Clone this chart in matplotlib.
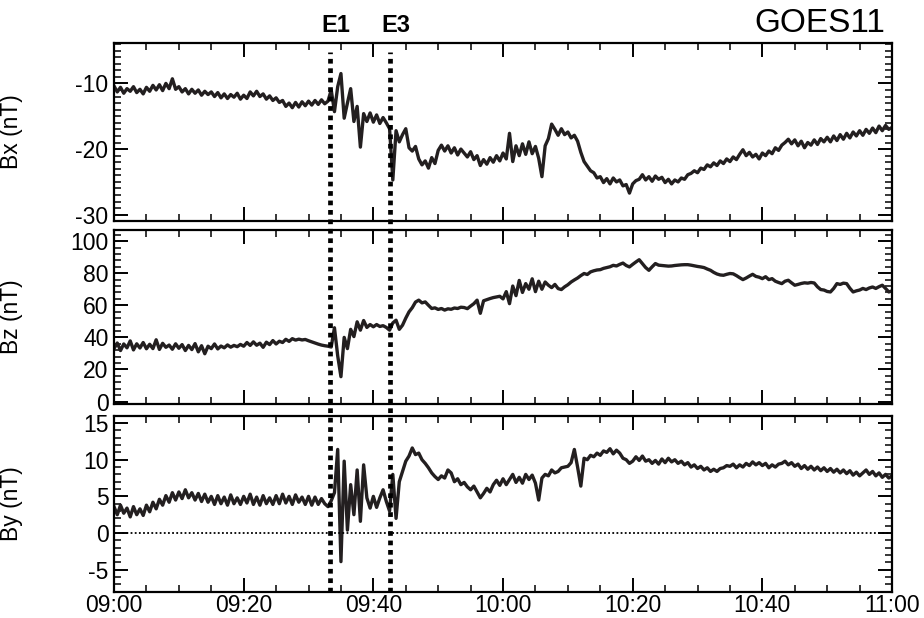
import matplotlib
matplotlib.use("Agg")
import matplotlib.pyplot as plt
import numpy as np
from matplotlib.lines import Line2D
from matplotlib.ticker import MultipleLocator
from matplotlib.transforms import blended_transform_factory

plt.rcParams["font.family"] = ["Liberation Sans", "DejaVu Sans"]
plt.rcParams["axes.unicode_minus"] = False

# minutes after 09:00, one sample every 30 s
minutes = np.arange(0, 120.5, 0.5)

bx = [
    -10.4, -11.3, -10.6, -11.5, -10.8, -11.2, -10.5, -11.4, -10.9, -11.6,
    -10.6, -11.2, -10.3, -11.0, -10.2, -11.1, -10.0, -10.8, -9.3, -10.9,
    -10.5, -11.3, -10.8, -11.6, -10.9, -11.5, -11.0, -11.8, -11.2, -11.7,
    -11.3, -12.0, -11.4, -12.2, -11.6, -12.3, -11.7, -12.1, -11.5, -12.4,
    -11.8, -12.3, -11.3, -11.9, -11.2, -12.0, -11.6, -12.4, -11.9, -12.6,
    -12.2, -12.9, -12.6, -13.5, -13.0, -13.7, -12.9, -13.6, -12.8, -13.4,
    -12.7, -13.3, -12.6, -13.2, -12.5, -13.1, -12.7, -11.0, -14.3, -10.5,
    -8.5, -15.3, -13.0, -10.8, -15.8, -13.5, -19.7, -14.6, -15.8, -14.5,
    -15.9, -14.8, -16.1, -15.2, -16.0, -16.9, -24.7, -17.2, -18.9, -17.8,
    -16.9, -19.8, -20.3, -19.6, -21.5, -22.4, -21.8, -22.9, -21.3, -22.2,
    -20.2, -19.4, -20.3, -19.5, -20.6, -19.8, -20.9, -20.0, -20.6, -21.2,
    -20.4, -21.6, -21.0, -22.5, -21.6, -22.3, -21.3, -22.0, -21.0, -21.8,
    -20.6, -21.5, -17.6, -21.9, -19.5, -21.0, -19.2, -20.8, -18.9, -20.7,
    -19.6, -21.4, -24.2, -19.5, -18.4, -16.2, -17.0, -17.9, -16.9, -17.8,
    -17.4, -18.3, -17.9, -18.8, -20.5, -21.9, -22.6, -23.3, -23.6, -24.4,
    -24.2, -25.1, -24.5, -25.3, -24.4, -25.0, -24.7, -25.6, -25.4, -26.7,
    -25.3, -24.8, -24.6, -23.9, -24.7, -24.2, -24.9, -24.1, -24.6, -24.3,
    -25.1, -24.6, -25.3, -24.7, -25.0, -24.4, -24.6, -23.9, -23.7, -23.3,
    -23.6, -22.9, -23.1, -22.4, -22.7, -22.1, -22.5, -21.8, -22.2, -21.5,
    -21.9, -21.2, -21.6, -20.8, -20.1, -21.0, -20.5, -21.2, -20.8, -21.5,
    -20.6, -21.0, -20.3, -20.7, -19.8, -20.2, -19.4, -19.0, -18.5, -19.2,
    -18.6, -19.5, -18.8, -19.8, -19.0, -19.4, -18.6, -19.3, -18.4, -18.9,
    -18.2, -18.9, -18.0, -18.7, -17.8, -18.5, -17.6, -18.3, -17.4, -18.0,
    -17.2, -17.9, -17.0, -17.6, -16.8, -17.5, -16.5, -17.2, -16.4, -17.0,
    -16.7,
]

bz = [
    33.0, 36.5, 31.8, 35.9, 33.5, 37.8, 32.2, 36.0, 33.4, 36.8,
    32.9, 35.7, 33.0, 38.5, 32.5, 36.3, 33.8, 35.2, 32.6, 36.0,
    33.2, 35.5, 31.8, 35.0, 32.4, 36.1, 31.0, 34.8, 29.8, 34.5,
    33.0, 35.9, 32.8, 34.6, 33.5, 35.3, 33.9, 35.0, 34.2, 35.6,
    34.5, 36.8, 35.0, 37.2, 35.1, 36.4, 33.8, 37.0, 35.5, 38.0,
    35.9, 37.6, 36.8, 38.8, 37.5, 39.2, 38.3, 38.9, 38.4, 38.7,
    37.9, 37.2, 36.5, 35.8, 35.2, 34.8, 34.5, 34.0, 46.0, 28.5,
    15.5, 40.0, 33.0, 45.0, 40.5, 49.7, 44.5, 50.5, 46.2, 48.0,
    46.6, 48.0, 46.8, 47.3, 46.2, 44.5, 49.0, 50.7, 45.0, 47.6,
    52.0, 55.9, 58.5, 62.0, 63.2, 61.5, 62.1, 60.0, 58.0, 58.4,
    57.4, 58.0, 57.0, 57.8, 57.5, 58.3, 58.0, 58.8, 58.6, 57.9,
    59.5, 61.0, 63.2, 55.0, 62.8, 63.5, 64.2, 64.8, 65.2, 65.6,
    64.0, 68.5, 61.0, 72.0, 66.0, 75.5, 68.0, 73.5, 70.0, 76.5,
    68.5, 75.0, 70.0, 74.5, 72.5, 71.0, 73.0, 70.4, 69.8, 71.5,
    72.8, 74.5, 75.8, 77.0, 78.5, 79.8, 79.2, 80.8, 81.5, 82.0,
    82.2, 83.0, 83.5, 84.0, 84.9, 84.5, 85.5, 86.3, 84.8, 83.9,
    85.5, 87.0, 88.4, 86.0, 83.5, 81.8, 84.0, 86.0, 85.0, 84.8,
    84.6, 84.4, 84.5, 84.8, 85.0, 85.2, 85.3, 85.3, 85.0, 84.6,
    84.2, 83.9, 83.5, 82.6, 81.8, 80.5, 79.5, 78.9, 78.7, 79.3,
    79.8, 79.6, 78.5, 77.2, 76.0, 77.0, 78.2, 79.3, 78.0, 77.5,
    76.6, 77.8, 76.0, 76.6, 75.0, 74.2, 73.5, 75.0, 75.6, 74.0,
    72.5, 73.0, 73.6, 74.0, 73.8, 74.2, 73.9, 71.5, 69.8, 69.5,
    68.6, 68.3, 70.5, 73.5, 73.0, 73.8, 73.5, 70.6, 68.3, 69.0,
    69.5, 70.5, 69.8, 70.8, 71.4, 70.5, 71.6, 72.5, 70.5, 68.3,
    69.0,
]

by = [
    3.6, 2.5, 3.8, 2.7, 3.4, 2.2, 3.6, 2.5, 3.3, 2.4,
    3.8, 2.9, 4.2, 3.3, 4.6, 3.8, 5.1, 4.2, 5.5, 4.5,
    5.6, 4.7, 5.9, 4.8, 5.5, 4.5, 5.4, 4.3, 5.3, 4.2,
    5.0, 3.9, 5.1, 4.0, 4.9, 3.8, 5.2, 4.0, 4.8, 3.9,
    5.0, 4.1, 5.3, 3.9, 4.9, 3.8, 5.1, 4.0, 4.8, 3.9,
    5.1, 4.0, 5.3, 4.1, 5.0, 3.9, 5.2, 4.2, 4.9, 3.9,
    5.0, 3.8, 4.9, 3.9, 4.7, 4.0, 3.6, 4.4, 5.5, 11.4,
    -3.9, 9.8, 0.4, 6.6, 2.5, 8.6, 1.6, 9.3, 4.8, 3.4,
    5.0, 3.5, 4.8, 5.9, 4.3, 3.0, 8.0, 2.0, 7.0, 8.4,
    9.8, 10.5, 11.6, 10.7, 10.9, 10.0, 9.5, 8.9, 8.2, 7.7,
    7.3, 7.8, 7.5, 8.6, 8.2, 7.0, 7.4, 6.6, 6.9, 6.3,
    5.9, 6.4, 5.6, 4.8, 5.4, 6.1, 5.6, 6.6, 7.2, 6.5,
    7.4, 6.6, 7.3, 8.0, 6.9, 7.6, 6.8, 8.0, 7.3, 7.9,
    6.8, 4.5, 7.5, 8.0, 7.8, 8.6, 8.2, 8.4, 8.9, 9.0,
    9.1, 9.6, 11.4, 9.0, 6.4, 10.2, 10.0, 10.6, 10.4, 10.9,
    10.6, 11.2, 11.0, 11.5, 10.8, 11.3, 10.9, 10.2, 10.0, 9.5,
    9.8, 10.4, 9.9, 10.5, 9.8, 10.0, 9.5, 9.9, 9.4, 10.1,
    9.6, 10.2, 9.7, 10.0, 9.5, 9.8, 9.3, 9.6, 9.0, 9.3,
    8.8, 9.1, 8.6, 8.9, 8.4, 8.7, 8.4, 8.8, 8.9, 9.2,
    9.1, 9.4, 8.9, 9.3, 9.0, 9.5, 9.2, 9.7, 9.3, 9.6,
    9.2, 9.5, 8.9, 9.3, 9.0, 9.4, 9.5, 9.8, 9.3, 9.6,
    9.1, 9.4, 8.8, 9.2, 8.7, 9.1, 8.6, 9.0, 8.5, 8.9,
    8.4, 8.8, 8.3, 8.7, 8.2, 8.6, 8.1, 8.5, 7.9, 8.3,
    7.8, 8.2, 8.6, 8.0, 8.4, 7.8, 8.2, 7.6, 8.0, 7.5,
    7.8,
]

event_minutes = [33.3, 42.6]
event_names = ["E1", "E3"]
time_ticks = [0, 20, 40, 60, 80, 100, 120]
time_labels = ["09:00", "09:20", "09:40", "10:00", "10:20", "10:40", "11:00"]

panels = [
    (bx, "Bx (nT)", (-30.9, -3.9), 1, [-30, -20, -10]),
    (bz, "Bz (nT)", (-1.7, 106.9), 4, [0, 20, 40, 60, 80, 100]),
    (by, "By (nT)", (-8, 16), 1, [-5, 0, 5, 10, 15]),
]

fig = plt.figure(figsize=(9.24, 6.18), dpi=100)
boxes = [(0.6429, 0.9299), (0.3458, 0.6278), (0.0426, 0.3273)]
left, right = 0.1234, 0.9654
line_color = "#231f20"

axes = []
for (vals, label, ylim, minor, yt), (b, t) in zip(panels, boxes):
    ax = fig.add_axes([left, b, right - left, t - b])
    ax.plot(minutes, vals, color=line_color, lw=2.4)
    ax.set_xlim(0, 120)
    ax.set_ylim(*ylim)
    ax.set_yticks(yt)
    ax.yaxis.set_minor_locator(MultipleLocator(minor))
    ax.set_xticks(time_ticks)
    ax.xaxis.set_minor_locator(MultipleLocator(5))
    ax.tick_params(which="both", direction="in", top=True, right=True,
                   labelsize=16.5)
    ax.tick_params(axis="y", pad=4)
    ax.tick_params(axis="x", pad=2)
    ax.tick_params(which="major", length=10, width=1.4)
    ax.tick_params(which="minor", length=5, width=1.1)
    for s in ax.spines.values():
        s.set_linewidth(1.6)
    ax.set_ylabel(label, fontsize=16.5)
    ax.yaxis.set_label_coords(-0.117, 0.5)
    ax.set_xticklabels([])
    axes.append(ax)

axes[2].set_xticklabels(time_labels)
axes[2].axhline(0, color="black", lw=1.3, linestyle=(0, (1, 1.3)))

# event markers run through all three panels
trans = blended_transform_factory(axes[2].transData, fig.transFigure)
for t, name in zip(event_minutes, event_names):
    fig.add_artist(Line2D([t, t], [0.0426, 0.916], transform=trans,
                          color="black", lw=3.4, linestyle=(0, (1, 1)),
                          dash_capstyle="butt"))
    fig.text(t + 0.9, 0.958, name, transform=trans, ha="center", va="center",
             fontsize=17, fontweight="bold")

fig.text(0.958, 0.962, "GOES11", ha="right", va="center", fontsize=24)

fig.savefig("out.png", dpi=100)
